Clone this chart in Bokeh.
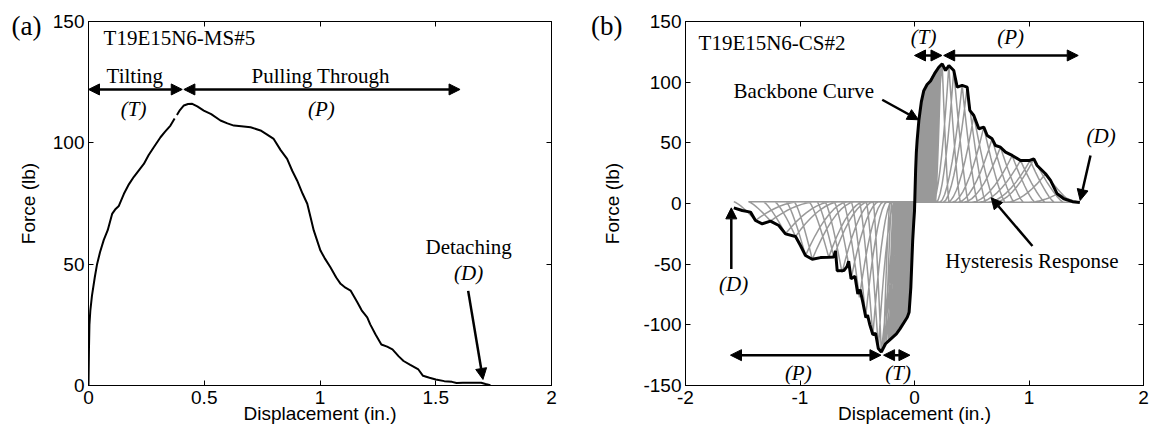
import numpy as np
from bokeh.plotting import figure
from bokeh.layouts import row
from bokeh.models import Arrow, NormalHead, LinearAxis, FixedTicker, Label, Range1d
from bokeh.embed import file_html
from bokeh.resources import INLINE

# ---------------- Panel (a): monotonic test T19E15N6-MS#5 ----------------
mono_disp = [0, 0.002, 0.004, 0.008, 0.015, 0.027, 0.037, 0.050, 0.066, 0.083, 0.102, 0.115,
             0.131, 0.153, 0.175, 0.196, 0.220, 0.239, 0.260, 0.282, 0.311, 0.330, 0.354, 0.372,
             np.nan, 0.382, 0.395, 0.412, 0.430, 0.448, 0.470, 0.498, 0.530, 0.570, 0.600, 0.628,
             0.660, 0.700, 0.743, 0.770, 0.800, 0.830, 0.858, 0.880, 0.901, 0.925, 0.945, 0.960,
             0.973, 1.002, 1.020, 1.045, 1.070, 1.089, 1.110, 1.132, 1.160, 1.180, 1.204, 1.217,
             1.240, 1.265, 1.290, 1.313, 1.340, 1.361, 1.390, 1.425, 1.445, 1.473, 1.500, 1.537,
             1.570, 1.590, 1.617, 1.660, 1.696, 1.715, 1.736]
mono_force = [0, 15, 25, 31, 37, 44.5, 50, 55, 60, 64, 70.7, 72.5,
              74, 79, 83, 86, 89, 91.3, 95, 98.2, 102.3, 104.5, 107.1, 110,
              np.nan, 111.5, 113.5, 115.4, 116, 116.1, 115, 113.3, 111.8, 109.2, 108, 107.1,
              106.8, 106.4, 105.1, 103.5, 101.6, 97, 93.4, 88.5, 84.5, 79, 74.9, 69,
              63.9, 55.6, 52.5, 48.7, 44.5, 41.9, 40.3, 39.1, 34.5, 31, 28.1, 25.2,
              21, 16.9, 16, 14.9, 12, 10.1, 8.5, 6.6, 4, 3.2, 2.5, 1.8,
              1.5, 1.0, 1.1, 1.1, 1.1, 0.6, 0.1]

a_xticks = [0, 0.5, 1, 1.5, 2]
a_xlabels = ["0", "0.5", "1", "1.5", "2"]
a_yticks = [0, 50, 100, 150]
a_ylabels = ["0", "50", "100", "150"]

# ---------------- Panel (b): cyclic test T19E15N6-CS#2 ----------------
backbone_disp = [-1.578, -1.505, -1.432, -1.389, -1.330, -1.258, -1.185, -1.127, -1.039, -0.996,
                 -0.952, -0.893, -0.821, -0.749, -0.705, -0.690, -0.675, -0.617, -0.590, -0.575,
                 -0.554, -0.520, -0.495, -0.475, -0.450, -0.425, -0.410, -0.390, -0.364, -0.340,
                 -0.316, -0.290, -0.253, -0.206, -0.158, -0.127, -0.063, -0.047, -0.032, -0.016,
                 -0.006, 0.000, 0.004, 0.010, 0.016, 0.023, 0.038, 0.060, 0.081, 0.110, 0.140,
                 0.175, 0.212, 0.242, 0.271, 0.300, 0.343, 0.373, 0.416, 0.460, 0.483, 0.518,
                 0.562, 0.605, 0.635, 0.678, 0.707, 0.751, 0.795, 0.853, 0.926, 1.000, 1.042,
                 1.071, 1.144, 1.188, 1.246, 1.304, 1.380, 1.444]
backbone_force = [-3.6, -5.8, -7.1, -14, -16.8, -14.5, -18.1, -25, -27.2, -34.6,
                  -42.9, -46.0, -44.6, -44.3, -44.0, -39.0, -55.5, -55.2, -52, -47.5,
                  -62, -60, -74.5, -71, -82, -94, -92, -100, -108, -107,
                  -119.5, -122.4, -115.6, -111.5, -107.4, -103.3, -93.7, -89.6, -69.1, -30.9,
                  -14.5, -6, 8, 28, 42, 52, 68.4, 84, 93, 98, 101,
                  107, 112.3, 115.1, 109.6, 113.7, 109.6, 95.9, 97.3, 95.9, 76.7, 72.5,
                  61.6, 62.9, 56, 53.3, 47.8, 46.4, 42.3, 39.6, 35.4, 35.4, 36.8,
                  31.3, 24.5, 19, 8, 3.9, 1.5, 0.8]

# hysteresis cycles: peak of each half-cycle, reload start and foot (in.)
pos_peak_d = [0.015, 0.025, 0.035, 0.045, 0.055, 0.065, 0.075, 0.085, 0.095, 0.105, 0.118, 0.130,
              0.142, 0.155, 0.168, 0.180, 0.193, 0.205, 0.218, 0.230, 0.242, 0.300, 0.343, 0.416,
              0.460, 0.518, 0.605, 0.678, 0.751, 0.853, 0.926, 1.010, 1.042, 1.144, 1.250]
pos_peak_f = [42, 54, 64, 72, 79, 84, 88, 92, 95, 97, 99, 101,
              103, 105, 107, 109, 110, 111, 113, 114, 115, 113.5, 109.5, 97.5,
              96, 72.5, 63, 53.5, 46.5, 39.5, 35.5, 35.5, 36.8, 24.5, 8]
pos_start_d = [0.009, 0.015, 0.021, 0.027, 0.033, 0.039, 0.045, 0.051, 0.057, 0.063, 0.071, 0.078,
               0.085, 0.093, 0.101, 0.108, 0.116, 0.123, 0.131, 0.138, 0.145, 0.160, 0.190, 0.220,
               0.250, 0.290, 0.330, 0.380, 0.430, 0.500, 0.560, 0.640, 0.700, 0.800, 1.000]
pos_foot_d = [0.012, 0.020, 0.028, 0.036, 0.044, 0.052, 0.060, 0.068, 0.076, 0.084, 0.094, 0.104,
              0.114, 0.124, 0.134, 0.144, 0.154, 0.164, 0.174, 0.184, 0.300, 0.400, 0.470, 0.550,
              0.620, 0.700, 0.790, 0.870, 0.950, 1.050, 1.140, 1.220, 1.300, 1.380, 1.440]
neg_peak_d = [-0.012, -0.020, -0.028, -0.035, -0.045, -0.055, -0.065, -0.080, -0.095, -0.110,
              -0.125, -0.140, -0.155, -0.170, -0.185, -0.200, -0.215, -0.230, -0.250, -0.270,
              -0.290, -0.316, -0.364, -0.427, -0.481, -0.554, -0.633, -0.705, -0.749, -0.893,
              -0.952, -1.039, -1.127, -1.258, -1.389]
neg_peak_f = [-25, -45, -60, -74, -87, -92, -94, -96, -98, -100,
              -103, -105, -107, -108, -110, -111, -112.5, -114, -115.6, -119,
              -122.4, -119.7, -108.7, -93.7, -77.3, -62, -57, -44, -44.3, -46,
              -43, -27.2, -25, -14.5, -14]
neg_start_d = [-0.007, -0.012, -0.017, -0.021, -0.027, -0.033, -0.039, -0.048, -0.057, -0.066,
               -0.075, -0.084, -0.093, -0.102, -0.111, -0.120, -0.129, -0.138, -0.150, -0.162,
               -0.174, -0.170, -0.200, -0.240, -0.270, -0.310, -0.360, -0.400, -0.440, -0.520,
               -0.580, -0.650, -0.720, -0.850, -1.000]
neg_foot_d = [-0.010, -0.016, -0.022, -0.028, -0.036, -0.044, -0.052, -0.064, -0.076, -0.088,
              -0.100, -0.112, -0.124, -0.136, -0.148, -0.160, -0.172, -0.184, -0.200, -0.216,
              -0.360, -0.420, -0.480, -0.550, -0.620, -0.700, -0.780, -0.850, -0.920, -1.050,
              -1.120, -1.220, -1.320, -1.450, -1.578]
zero_band_pos = 1.0
zero_band_neg = 1.5

b_xticks = [-2, -1, 0, 1, 2]
b_xlabels = ["-2", "-1", "0", "1", "2"]
b_yticks = [-150, -100, -50, 0, 50, 100, 150]
b_ylabels = ["-150", "-100", "-50", "0", "50", "100", "150"]

SANS = "Liberation Sans"
SERIF = "Liberation Serif"
TICK_FS = "19px"
ANN_FS = "21px"


def hysteresis_path():
    xs, ys = [], []
    t = np.linspace(0.0, 1.0, 10)
    for i in range(len(pos_peak_d)):
        s, p, F, ft = pos_start_d[i], pos_peak_d[i], pos_peak_f[i], pos_foot_d[i]
        e = 0.8 if p < 0.25 else 1.8
        xs += list(s + t * (p - s)); ys += list(zero_band_pos + (F - zero_band_pos) * t ** e)
        xs += list(p + t * (ft - p)); ys += list(zero_band_pos + (F - zero_band_pos) * (1 - t) ** 1.3)
        s, p, F, ft = neg_start_d[i], neg_peak_d[i], neg_peak_f[i], neg_foot_d[i]
        e = 0.8 if p > -0.3 else 1.8
        xs += list(s + t * (p - s)); ys += list(zero_band_neg + (F - zero_band_neg) * t ** e)
        xs += list(p + t * (ft - p)); ys += list(zero_band_neg + (F - zero_band_neg) * (1 - t) ** 1.3)
    return xs, ys


def style(p, xt, xl, yt, yl, tag, tag_tick, tag_standoff, ylabel_standoff):
    p.xgrid.visible = False
    p.ygrid.visible = False
    p.outline_line_color = "black"
    p.outline_line_width = 1
    p.background_fill_color = "white"
    p.border_fill_color = "white"
    for ax, ticks, labels in ((p.xaxis[0], xt, xl), (p.yaxis[0], yt, yl)):
        ax.ticker = FixedTicker(ticks=ticks)
        ax.major_label_overrides = {t: l for t, l in zip(ticks, labels)}
        ax.major_tick_in = 5
        ax.major_tick_out = 0
        ax.minor_tick_in = 0
        ax.minor_tick_out = 0
        ax.axis_line_color = "black"
        ax.major_tick_line_color = "black"
        ax.major_label_text_font = SANS
        ax.major_label_text_font_size = TICK_FS
        ax.major_label_text_color = "black"
        ax.axis_label_text_font = SANS
        ax.axis_label_text_font_size = TICK_FS
        ax.axis_label_text_font_style = "normal"
        ax.axis_label_text_color = "black"
    p.xaxis[0].major_label_standoff = 5
    p.xaxis[0].axis_label_standoff = -4
    p.yaxis[0].major_label_standoff = 4
    p.xaxis[0].axis_label = "Displacement (in.)"
    # outer left axis: carries the panel tag "(a)"/"(b)" as its only tick label and the y title
    outer = LinearAxis(ticker=FixedTicker(ticks=[tag_tick]), major_label_overrides={tag_tick: tag},
                       major_label_text_font=SERIF, major_label_text_font_size="27px",
                       major_label_text_color="black", major_label_standoff=tag_standoff,
                       major_tick_in=0, major_tick_out=0, minor_tick_in=0, minor_tick_out=0,
                       axis_line_color=None, major_tick_line_color=None,
                       axis_label="Force (lb)", axis_label_text_font=SANS,
                       axis_label_text_font_size=TICK_FS, axis_label_text_font_style="normal",
                       axis_label_text_color="black", axis_label_standoff=ylabel_standoff)
    p.add_layout(outer, "left")
    for loc, ticks in (("above", xt), ("right", yt)):
        ax = LinearAxis(ticker=FixedTicker(ticks=ticks), major_label_text_font_size="1px",
                        major_label_text_color=None,
                        major_tick_in=5, major_tick_out=0, minor_tick_in=0, minor_tick_out=0,
                        major_label_standoff=0, axis_line_color="black")
        p.add_layout(ax, loc)


def txt(p, x, y, s, italic=False, align="center", size=ANN_FS):
    p.add_layout(Label(x=x, y=y, text=s, text_font=SERIF, text_font_size=size,
                       text_font_style="italic" if italic else "normal",
                       text_align=align, text_baseline="middle", text_color="black"))


def arrow(p, x0, y0, x1, y1, both=False):
    head = lambda: NormalHead(size=11, fill_color="black", line_color="black", line_width=1)
    p.add_layout(Arrow(x_start=x0, y_start=y0, x_end=x1, y_end=y1,
                       start=head() if both else None, end=head(),
                       line_color="black", line_width=2.5))


# ---------- figure (a)
pa = figure(width=590, height=433, x_range=Range1d(0, 2), y_range=Range1d(0, 150),
            output_backend="svg", toolbar_location=None,
            min_border_left=88, min_border_right=39, min_border_top=21, min_border_bottom=48)
style(pa, a_xticks, a_xlabels, a_yticks, a_ylabels, "(a)", 148, 8, -30)
pa.line(mono_disp, mono_force, line_color="black", line_width=2)
txt(pa, 0.065, 143, "T19E15N6-MS#5", align="left")
arrow(pa, 0.0, 122, 0.405, 122, both=True)
arrow(pa, 0.412, 122, 1.605, 122, both=True)
txt(pa, 0.20, 127.5, "Tilting")
txt(pa, 0.195, 114, "(T)", italic=True)
txt(pa, 1.003, 127.5, "Pulling Through")
txt(pa, 1.006, 114, "(P)", italic=True)
txt(pa, 1.642, 57, "Detaching")
txt(pa, 1.642, 46.5, "(D)", italic=True)
arrow(pa, 1.640, 39, 1.704, 2.5)

# ---------- figure (b)
pb = figure(width=560, height=433, x_range=Range1d(-2, 2), y_range=Range1d(-150, 150),
            output_backend="svg", toolbar_location=None,
            min_border_left=95, min_border_right=7, min_border_top=21, min_border_bottom=48)
style(pb, b_xticks, b_xlabels, b_yticks, b_ylabels, "(b)", 146, 18, -35)
hx, hy = hysteresis_path()
pb.line(hx, hy, line_color="#999999", line_width=1.5)
pb.line(backbone_disp, backbone_force, line_color="black", line_width=3)
txt(pb, -1.886, 132, "T19E15N6-CS#2", align="left")
txt(pb, 0.08, 137, "(T)", italic=True)
txt(pb, 0.84, 137, "(P)", italic=True)
arrow(pb, 0.0, 122, 0.24, 122, both=True)
arrow(pb, 0.255, 122, 1.43, 122, both=True)
txt(pb, -1.58, 93, "Backbone Curve", align="left")
arrow(pb, -0.282, 85.5, 0.035, 69)
txt(pb, 1.63, 56, "(D)", italic=True)
arrow(pb, 1.537, 39.6, 1.447, 2.5)
txt(pb, 1.026, -47, "Hysteresis Response")
arrow(pb, 1.03, -35, 0.67, 4.7)
txt(pb, -1.58, -66, "(D)", italic=True)
arrow(pb, -1.60, -54, -1.60, -3.6)
arrow(pb, -1.607, -125, -0.293, -125, both=True)
arrow(pb, -0.27, -125, -0.04, -125, both=True)
txt(pb, -1.015, -140, "(P)", italic=True)
txt(pb, -0.143, -140, "(T)", italic=True)

layout = row(pa, pb)
open("out.html", "w").write(file_html(layout, INLINE))
